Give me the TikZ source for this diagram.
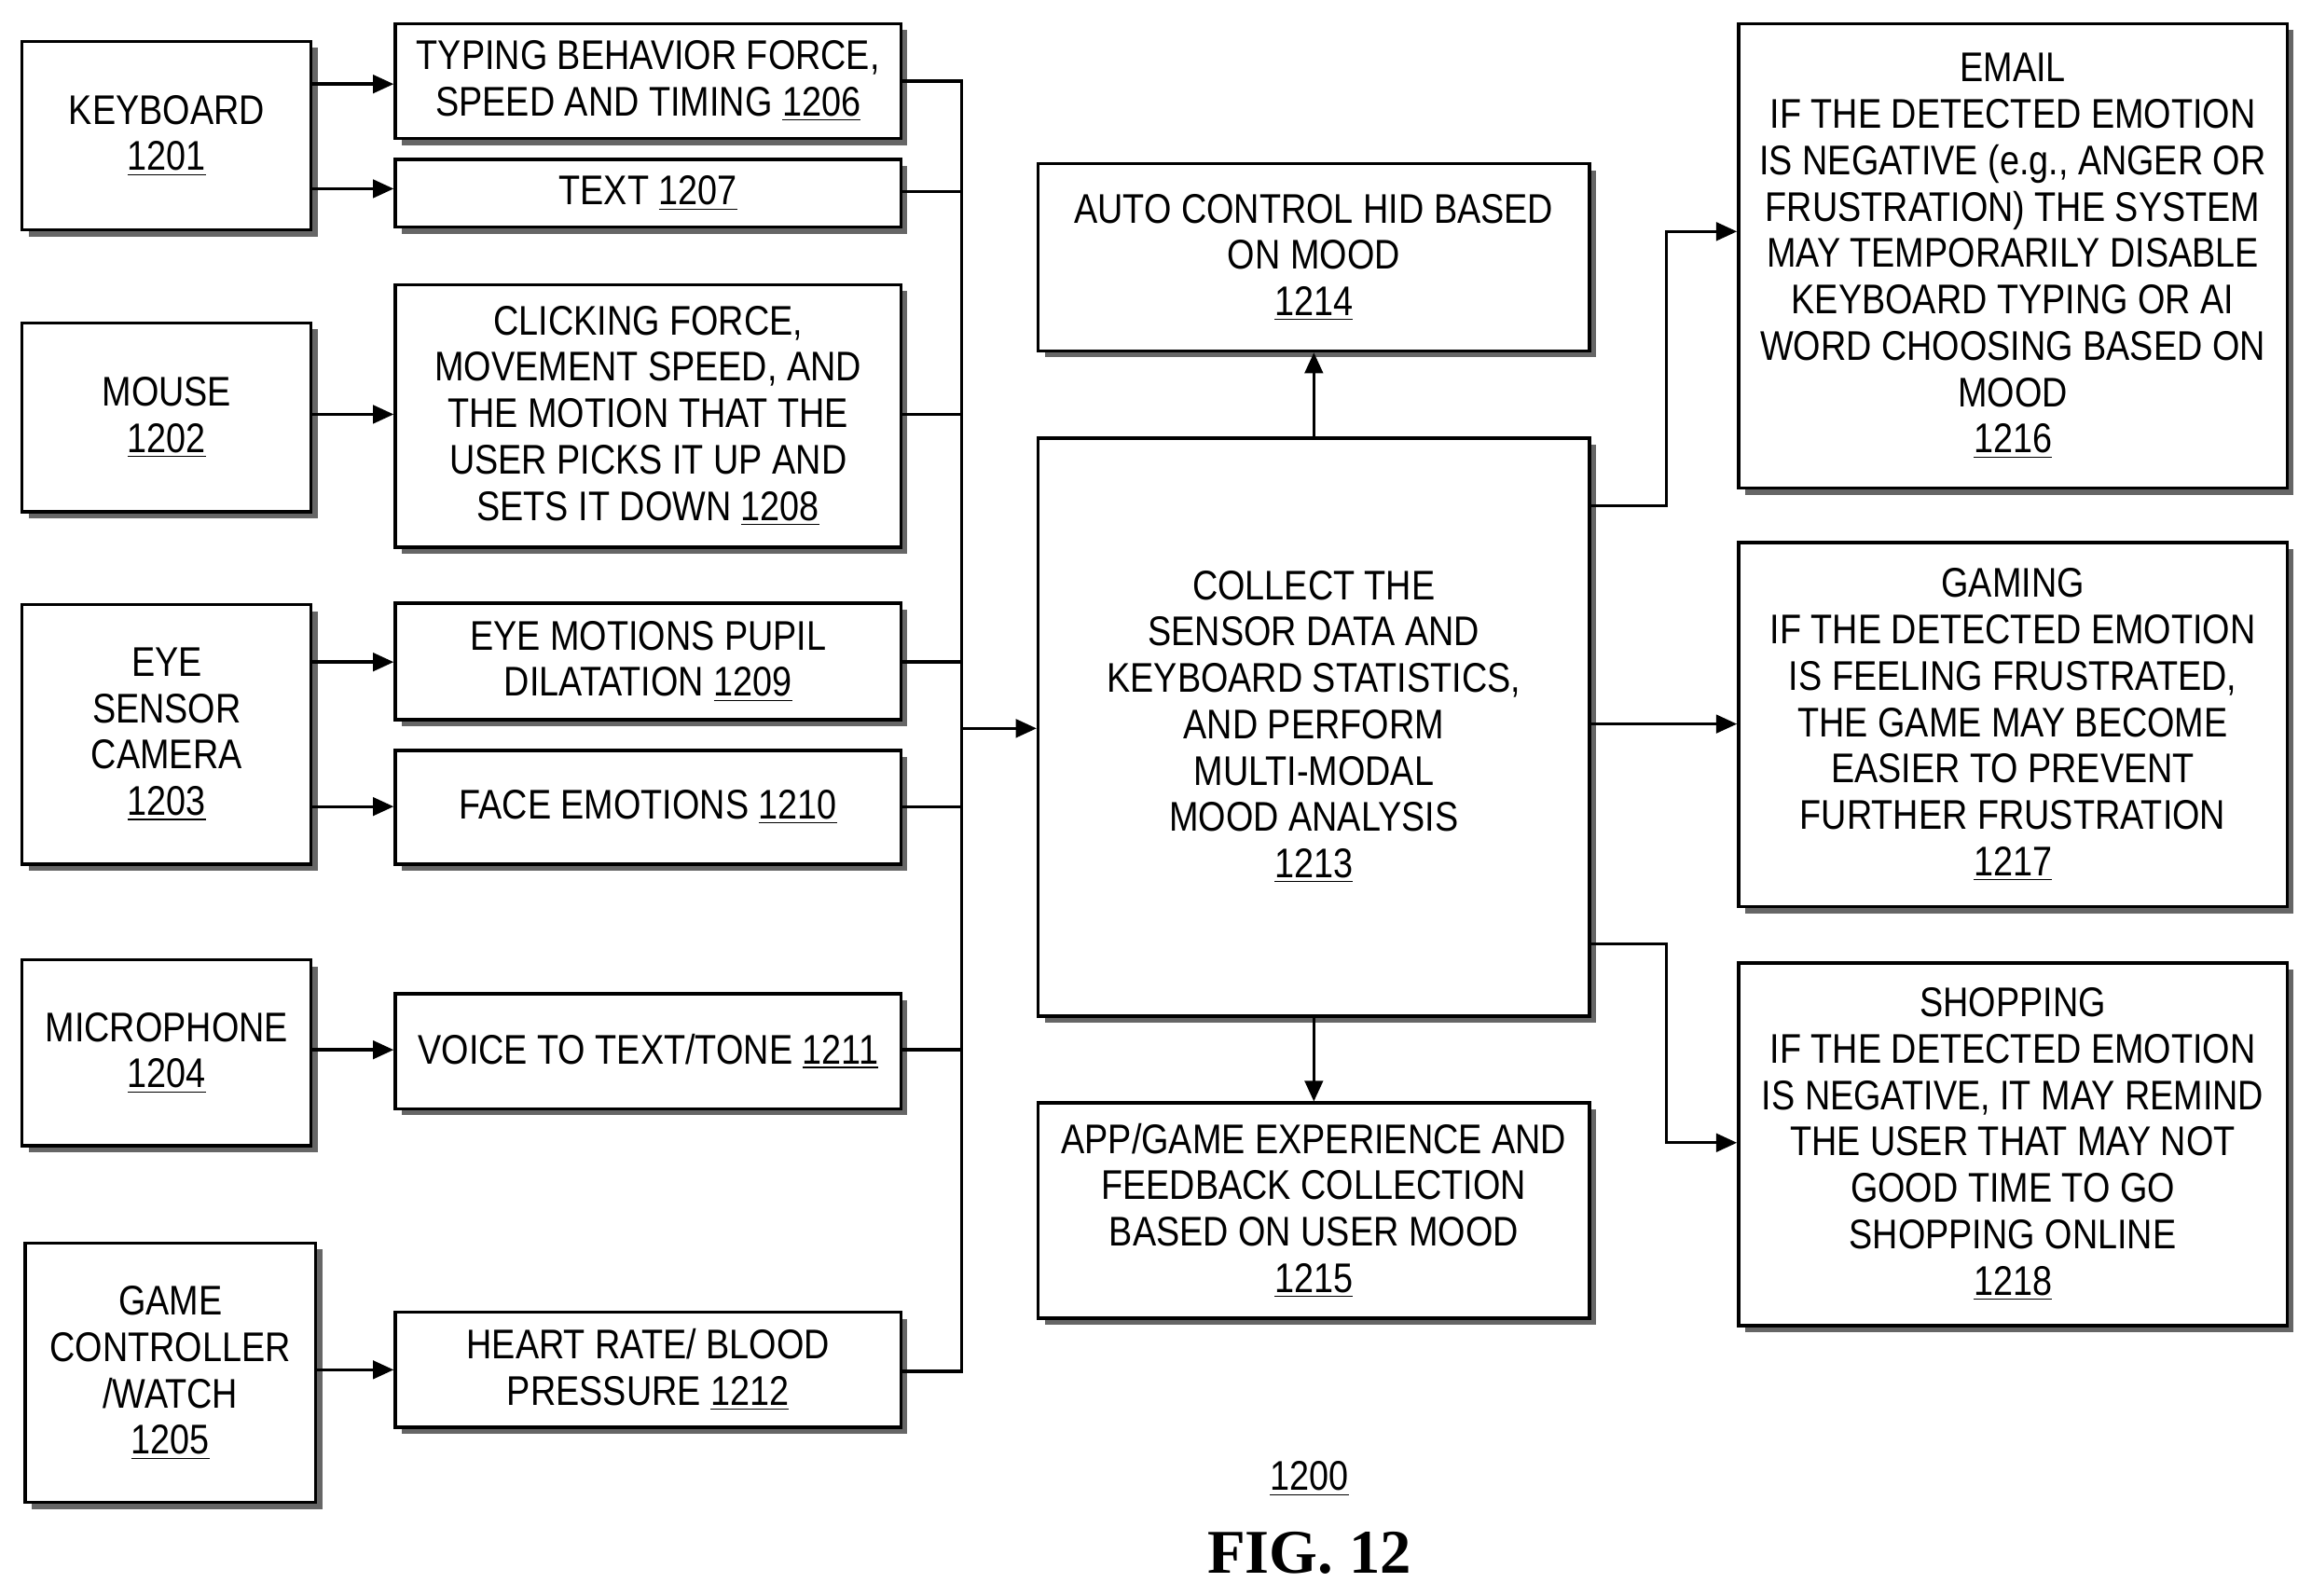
\documentclass[tikz,border=0pt]{standalone}
\usepackage{fontspec}
\setmainfont{Liberation Sans}[FakeStretch=0.85]
\newfontfamily\figfont{Liberation Serif}
\usetikzlibrary{shadows,arrows.meta}
\begin{document}
\begin{tikzpicture}[x=0.02cm,y=-0.02cm,
 every node/.style={align=center,font=\fontsize{16}{17.9}\selectfont},
 bx/.style={draw,line width=1.2pt,fill=white,inner sep=0pt,
   drop shadow={shadow xshift=2.5pt,shadow yshift=-2.5pt,fill=black!60,opacity=1}},
 ar/.style={line width=1.2pt,-{Triangle[length=8pt,width=7pt]}},
 ln/.style={line width=1.2pt}]
\useasboundingbox (0,0) rectangle (1568,1082);
\newcommand{\bxat}[5]{\node[bx,minimum width={(#3-#1)*0.02cm},minimum height={(#4-#2)*0.02cm},anchor=north west] (#5) at (#1,#2) {};}
\def\u#1{\underline{#1}}
% left
\bxat{14}{27}{210}{155}{k}\node at (k.center){KEYBOARD\\\u{1201}};
\bxat{14}{218}{210}{346}{m}\node at (m.center){MOUSE\\\u{1202}};
\bxat{14}{409}{210}{585}{e}\node at (e.center){EYE\\SENSOR\\CAMERA\\\u{1203}};
\bxat{14}{650}{210}{776}{mi}\node at (mi.center){MICROPHONE\\\u{1204}};
\bxat{16}{842}{213}{1018}{g}\node at (g.center){GAME\\CONTROLLER\\/WATCH\\\u{1205}};
\bxat{267}{15}{610}{93}{a}\node at (a.center){TYPING BEHAVIOR FORCE,\\SPEED AND TIMING \u{1206}};
\bxat{267}{107}{610}{153}{b}\node at (b.center){TEXT \u{1207}};
\bxat{267}{192}{610}{370}{c}\node at (c.center){CLICKING FORCE,\\MOVEMENT SPEED, AND\\THE MOTION THAT THE\\USER PICKS IT UP AND\\SETS IT DOWN \u{1208}};
\bxat{267}{408}{610}{487}{d}\node at (d.center){EYE MOTIONS PUPIL\\DILATATION \u{1209}};
\bxat{267}{508}{610}{585}{f}\node at (f.center){FACE EMOTIONS \u{1210}};
\bxat{267}{673}{610}{751}{h}\node at (h.center){VOICE TO TEXT/TONE \u{1211}};
\bxat{267}{889}{610}{967}{i}\node at (i.center){HEART RATE/ BLOOD\\PRESSURE \u{1212}};
% center
\bxat{703}{296}{1077}{688}{cc}\node at (cc.center){COLLECT THE\\SENSOR DATA AND\\KEYBOARD STATISTICS,\\AND PERFORM\\MULTI-MODAL\\MOOD ANALYSIS\\\u{1213}};
\bxat{703}{110}{1077}{237}{t}\node at (t.center){AUTO CONTROL HID BASED\\ON MOOD\\\u{1214}};
\bxat{703}{747}{1077}{893}{bt}\node at (bt.center){APP/GAME EXPERIENCE AND\\FEEDBACK COLLECTION\\BASED ON USER MOOD\\\u{1215}};
% right
\bxat{1178}{15}{1550}{330}{r1}\node at (r1.center){EMAIL\\IF THE DETECTED EMOTION\\IS NEGATIVE (e.g., ANGER OR\\FRUSTRATION) THE SYSTEM\\MAY TEMPORARILY DISABLE\\KEYBOARD TYPING OR AI\\WORD CHOOSING BASED ON\\MOOD\\\u{1216}};
\bxat{1178}{367}{1550}{614}{r2}\node at (r2.center){GAMING\\IF THE DETECTED EMOTION\\IS FEELING FRUSTRATED,\\THE GAME MAY BECOME\\EASIER TO PREVENT\\FURTHER FRUSTRATION\\\u{1217}};
\bxat{1178}{652}{1550}{898}{r3}\node at (r3.center){SHOPPING\\IF THE DETECTED EMOTION\\IS NEGATIVE, IT MAY REMIND\\THE USER THAT MAY NOT\\GOOD TIME TO GO\\SHOPPING ONLINE\\\u{1218}};
% left arrows
\draw[ar] (210,57) -- (a.west|-0,57);
\draw[ar] (210,128) -- (b.west|-0,128);
\draw[ar] (m.east|-0,281) -- (c.west|-0,281);
\draw[ar] (e.east|-0,449) -- (d.west|-0,449);
\draw[ar] (e.east|-0,547) -- (f.west|-0,547);
\draw[ar] (mi.east|-0,712) -- (h.west|-0,712);
\draw[ar] (g.east|-0,929) -- (i.west|-0,929);
% bus
\coordinate (top) at (652,55);
\coordinate (bot) at (652,930);
\coordinate (j) at (652,494);
\draw[ln] (a.east|-0,55) -- (top) -- (bot) -- (i.east|-0,930);
\foreach \n/\y in {b/130,c/281,d/449,f/547,h/712}{\draw[ln] (\n.east|-0,\y) -- (652,\y);}
\draw[ar] (j) -- (cc.west|-j);
% center arrows
\draw[ar] (cc.north) -- (t.south);
\draw[ar] (cc.south) -- (bt.north);
\draw[ar] (cc.east|-0,343) -- (1130,343) -- (1130,157) -- (r1.west|-0,157);
\draw[ar] (cc.east|-0,491) -- (r2.west|-0,491);
\draw[ar] (cc.east|-0,640) -- (1130,640) -- (1130,775) -- (r3.west|-0,775);
\node (lbl) at (888,1003) {\u{1200}};
\node[font=\figfont\bfseries\fontsize{24}{28}\selectfont] (fig) at (888,1053) {FIG. 12};
\end{tikzpicture}
\end{document}
